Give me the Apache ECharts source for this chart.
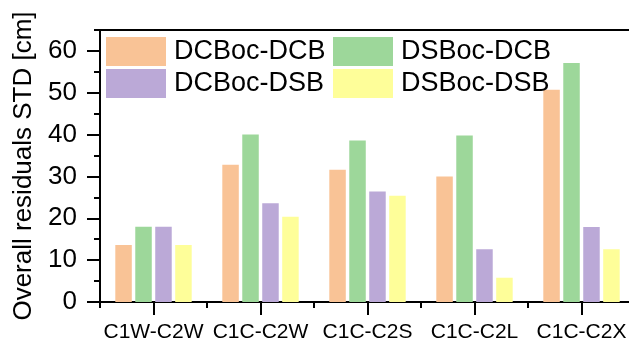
<!DOCTYPE html>
<html>
<head>
<meta charset="utf-8">
<script src="https://cdn.jsdelivr.net/npm/echarts@6/dist/echarts.min.js"></script>
<style>html,body{margin:0;padding:0;background:#fff}#c{width:629px;height:345px}</style>
</head>
<body>
<div id="c"></div>
<script>
const categories = ['C1W-C2W', 'C1C-C2W', 'C1C-C2S', 'C1C-C2L', 'C1C-C2X'];
const seriesNames = ['DCBoc-DCB', 'DSBoc-DCB', 'DCBoc-DSB', 'DSBoc-DSB'];
const dcbocDcb = [13.6, 32.8, 31.6, 30.0, 50.7];
const dsbocDcb = [18.0, 40.0, 38.6, 39.8, 57.1];
const dcbocDsb = [18.0, 23.6, 26.4, 12.6, 17.9];
const dsbocDsb = [13.6, 20.4, 25.4, 5.8, 12.6];
const yMajorTicks = [0, 10, 20, 30, 40, 50, 60];
const colors = ['#F9C396', '#9DD79A', '#BBA9D7', '#FEFE99'];
const allData = [dcbocDcb, dsbocDcb, dcbocDsb, dsbocDsb];

const FONT = 'Liberation Sans, Arial, sans-serif';
const chart = echarts.init(document.getElementById('c'));

const legendPos = [[101, 32], [328, 32], [101, 64], [328, 64]];
function ls() { return {color: '#000', width: 2}; }
const yMax = 65, yMajorMax = 60, plotTop = 30, plotBottom = 43, H = 345;
const plotH = H - plotTop - plotBottom;
const majorTop = plotTop + plotH * (yMax - yMajorMax) / yMax;

const option = {
  animation: false,
  grid: [
    {left: 100, top: plotTop, bottom: plotBottom, right: -6, containLabel: false, outerBoundsMode: 'none'},
    {left: 100, top: majorTop, bottom: plotBottom, right: -6, containLabel: false, outerBoundsMode: 'none'}
  ],
  legend: seriesNames.map((n, i) => ({
    data: [n], left: legendPos[i][0], top: legendPos[i][1],
    itemWidth: 60, itemHeight: 29, icon: 'rect',
    textStyle: {fontFamily: FONT, fontSize: 27, color: '#000', padding: [0, 0, 0, 3]},
    selectedMode: false
  })),
  xAxis: [{
    gridIndex: 0, type: 'category', data: categories, position: 'bottom',
    axisLine: {show: true, lineStyle: ls()},
    axisTick: {show: true, alignWithLabel: true, length: 13, inside: false, lineStyle: ls()},
    axisLabel: {fontFamily: FONT, fontSize: 21, color: '#000', margin: 20, interval: 0}
  }, {
    gridIndex: 0, type: 'category', data: categories, position: 'bottom',
    axisLine: {show: false},
    axisTick: {show: true, length: 6, inside: false, lineStyle: ls()},
    axisLabel: {show: false}
  }, {
    gridIndex: 0, type: 'category', data: categories, position: 'top',
    axisLine: {show: true, onZero: false, lineStyle: ls()},
    axisTick: {show: false},
    axisLabel: {show: false}
  }, {
    gridIndex: 1, type: 'category', data: categories, show: false
  }],
  yAxis: [{
    gridIndex: 0, type: 'value', min: 0, max: yMax, interval: 5, position: 'left',
    name: 'Overall residuals STD [cm]', nameLocation: 'middle', nameGap: 62,
    nameTextStyle: {fontFamily: FONT, fontSize: 26, color: '#000'},
    axisLine: {show: true, lineStyle: ls()},
    axisTick: {show: true, length: 6, inside: false, lineStyle: ls()},
    axisLabel: {fontFamily: FONT, fontSize: 26, color: '#000', margin: 23,
      formatter: v => (yMajorTicks.indexOf(v) >= 0 ? String(v) : '')},
    splitLine: {show: false}
  }, {
    gridIndex: 1, type: 'value', min: 0, max: yMajorMax, interval: 10, position: 'left',
    axisLine: {show: false},
    axisTick: {show: true, length: 13, inside: false, lineStyle: ls()},
    axisLabel: {show: false},
    splitLine: {show: false}
  }],
  series: seriesNames.map((n, i) => ({
    name: n, type: 'bar', data: allData[i],
    xAxisIndex: 0, yAxisIndex: 0,
    barWidth: 16.5, barGap: '21%',
    itemStyle: {color: colors[i]}
  }))
};
chart.setOption(option);
</script>
</body>
</html>
